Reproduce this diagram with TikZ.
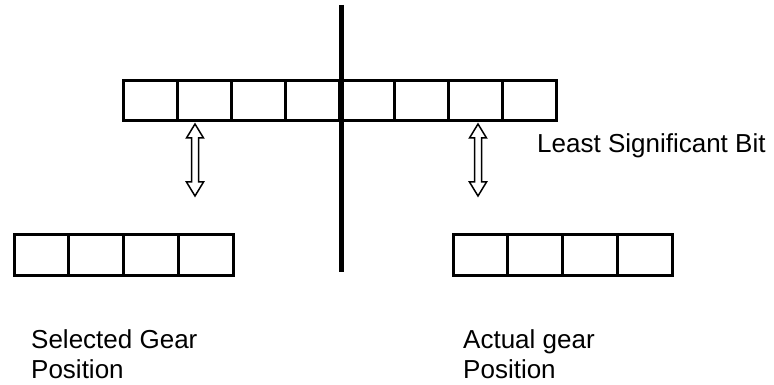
\documentclass[tikz,border=0pt]{standalone}
\usepackage{fontspec}
\setmainfont{Liberation Sans}
\begin{document}
\begin{tikzpicture}[x=1pt,y=-1pt,
  cell/.style={draw, line width=3pt, minimum width=54.2pt, minimum height=40pt, inner sep=0pt, outer sep=0pt, anchor=west},
  bcell/.style={cell, minimum width=54.8pt, minimum height=41pt},
  label/.style={font=\fontsize{26}{30}\selectfont, inner sep=0pt, align=left, anchor=base west},
  hollow/.style={draw, line width=1.5pt, fill=white, line join=miter}]
\useasboundingbox (0,0) rectangle (774,385);
% top register
\node[cell] (t1) at (123,101) {};
\foreach \i [remember=\i as \p (initially 1)] in {2,...,8}{
  \node[cell] (t\i) at (t\p.east) {};
}
% bottom left register
\node[bcell] (l1) at (14,254.5) {};
\foreach \i [remember=\i as \p (initially 1)] in {2,3,4}{
  \node[bcell] (l\i) at (l\p.east) {};
}
% bottom right register
\node[bcell] (r1) at (453,254.5) {};
\foreach \i [remember=\i as \p (initially 1)] in {2,3,4}{
  \node[bcell] (r\i) at (r\p.east) {};
}
% divider
\coordinate (vtop) at (341,5);
\coordinate (vbot) at (341,272);
\draw[line width=5pt] (vtop) -- (vbot);
% hollow double arrows
\foreach \c in {195,478}{
  \draw[hollow] (\c,124) -- ++(8.5,14) -- ++(-5,0) -- (\c+3.5,182) -- ++(5,0)
    -- (\c,196) -- ++(-8.5,-14) -- ++(5,0) -- (\c-3.5,138) -- ++(-5,0) -- cycle;
}
% labels
\node[label] (lsb) at (537,153) {Least Significant Bit};
\node[label] (sel) at (31,378) {Selected Gear\\Position};
\node[label] (act) at (463,378) {Actual gear\\Position};
\end{tikzpicture}
\end{document}
